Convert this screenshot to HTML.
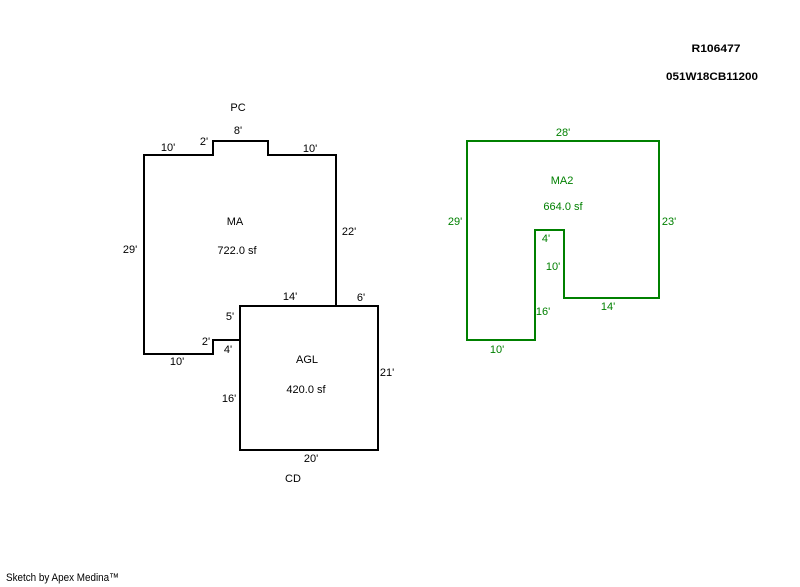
<!DOCTYPE html>
<html>
<head>
<meta charset="utf-8">
<style>
  html,body{margin:0;padding:0;background:#fff;}
  svg{display:block;}
  text{font-family:"Liberation Sans", Arial, sans-serif;font-size:11px;}
</style>
</head>
<body>
<svg width="800" height="587" viewBox="0 0 800 587" xmlns="http://www.w3.org/2000/svg">
  <rect x="0" y="0" width="800" height="587" fill="#fff"/>

  <!-- Header -->
  <text x="716" y="52" text-anchor="middle" font-weight="bold" font-size="12" textLength="49" lengthAdjust="spacingAndGlyphs">R106477</text>
  <text x="712" y="80" text-anchor="middle" font-weight="bold" font-size="12" textLength="92" lengthAdjust="spacingAndGlyphs">051W18CB11200</text>

  <!-- MA / AGL black shapes -->
  <g fill="none" stroke="#000" stroke-width="2" shape-rendering="crispEdges" stroke-linejoin="miter" stroke-linecap="square">
    <polyline points="144,155 213,155 213,141 268,141 268,155 336,155 336,306"/>
    <polyline points="144,155 144,354 213,354 213,340 240,340"/>
    <rect x="240" y="306" width="138" height="144"/>
  </g>

  <!-- MA2 green shape -->
  <polygon points="467,141 659,141 659,298 564,298 564,230 535,230 535,340 467,340" fill="none" stroke="#008000" stroke-width="2" shape-rendering="crispEdges"/>

  <!-- Black labels -->
  <g fill="#000" text-anchor="middle">
    <text x="238" y="111">PC</text>
    <text x="168" y="151">10'</text>
    <text x="204" y="145">2'</text>
    <text x="238" y="134">8'</text>
    <text x="310" y="152">10'</text>
    <text x="235" y="225">MA</text>
    <text x="237" y="254">722.0 sf</text>
    <text x="130" y="253">29'</text>
    <text x="349" y="235">22'</text>
    <text x="290" y="300">14'</text>
    <text x="361" y="301">6'</text>
    <text x="230" y="320">5'</text>
    <text x="206" y="345">2'</text>
    <text x="228" y="353">4'</text>
    <text x="177" y="365">10'</text>
    <text x="307" y="363">AGL</text>
    <text x="306" y="393">420.0 sf</text>
    <text x="387" y="376">21'</text>
    <text x="229" y="402">16'</text>
    <text x="311" y="462">20'</text>
    <text x="293" y="482">CD</text>
  </g>

  <!-- Green labels -->
  <g fill="#008000" text-anchor="middle">
    <text x="563" y="136">28'</text>
    <text x="562" y="184">MA2</text>
    <text x="563" y="210">664.0 sf</text>
    <text x="455" y="225">29'</text>
    <text x="669" y="225">23'</text>
    <text x="546" y="242">4'</text>
    <text x="553" y="270">10'</text>
    <text x="608" y="310">14'</text>
    <text x="543" y="315">16'</text>
    <text x="497" y="353">10'</text>
  </g>

  <!-- Footer -->
  <text x="6" y="581" font-size="10" textLength="113" lengthAdjust="spacingAndGlyphs">Sketch by Apex Medina™</text>
</svg>
</body>
</html>
